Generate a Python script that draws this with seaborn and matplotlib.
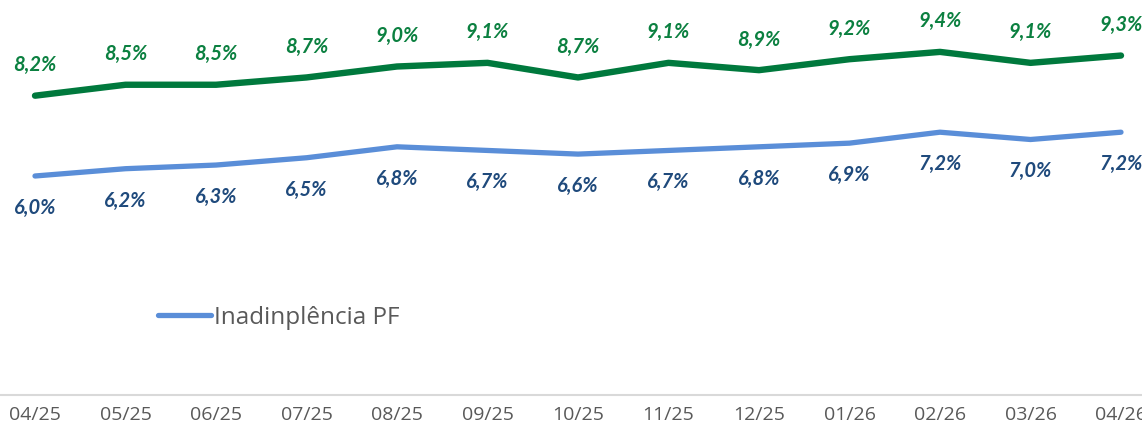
import matplotlib
matplotlib.use("Agg")
import matplotlib.pyplot as plt
import numpy as np
import seaborn as sns

# data
months = ["04/25", "05/25", "06/25", "07/25", "08/25", "09/25", "10/25",
          "11/25", "12/25", "01/26", "02/26", "03/26", "04/26"]
inad_total = [8.2, 8.5, 8.5, 8.7, 9.0, 9.1, 8.7, 9.1, 8.9, 9.2, 9.4, 9.1, 9.3]
inad_pf = [6.0, 6.2, 6.3, 6.5, 6.8, 6.7, 6.6, 6.7, 6.8, 6.9, 7.2, 7.0, 7.2]

GREEN = "#00793D"
GREEN_TXT = "#0B8040"
BLUE = "#5A8ED8"
BLUE_TXT = "#1F4A7C"

sns.set_style("white")
plt.rcParams["font.family"] = ["Open Sans", "DejaVu Sans"]

fig = plt.figure(figsize=(11.42, 4.30), dpi=100)
ax = fig.add_axes([0, 35 / 430, 1, 395 / 430])

x = np.arange(len(months))
sns.lineplot(x=x, y=inad_total, ax=ax, color=GREEN, linewidth=4.6,
             solid_capstyle="round", solid_joinstyle="round")
sns.lineplot(x=x, y=inad_pf, ax=ax, color=BLUE, linewidth=3.8,
             solid_capstyle="round", solid_joinstyle="round",
             label="Inadinplência PF")

lbl_font = dict(family=["Lato", "DejaVu Sans"], fontsize=14.5,
                fontweight="bold", fontstyle="italic")
for xi, v in zip(x, inad_total):
    ax.annotate(f"{v:.1f}%".replace(".", ","), (xi, v), xytext=(0, 22),
                textcoords="offset points", ha="center", va="center",
                color=GREEN_TXT, **lbl_font)
for xi, v in zip(x, inad_pf):
    ax.annotate(f"{v:.1f}%".replace(".", ","), (xi, v), xytext=(0, -23),
                textcoords="offset points", ha="center", va="center",
                color=BLUE_TXT, **lbl_font)

ax.set_xlim(-35 / 90.5, 12 + 21 / 90.5)
ax.set_ylim(0, 395 / 36.5)
ax.set_xticks(x)
ax.set_xticklabels(months, fontsize=14, color="#595959")
ax.set_yticks([])
ax.tick_params(axis="x", length=0, pad=8)
for side in ["top", "left", "right"]:
    ax.spines[side].set_visible(False)
ax.spines["bottom"].set_color("#D9D9D9")
ax.spines["bottom"].set_linewidth(1.5)
ax.set_xlabel("")
ax.set_ylabel("")

leg = ax.legend(loc="center left", bbox_to_anchor=(136 / 1142, 1 - 318 / 430),
                bbox_transform=fig.transFigure, frameon=False,
                handlelength=2.2, handletextpad=0.12, fontsize=17.5)
for t in leg.get_texts():
    t.set_color("#595959")

fig.savefig("out.png", dpi=100)
